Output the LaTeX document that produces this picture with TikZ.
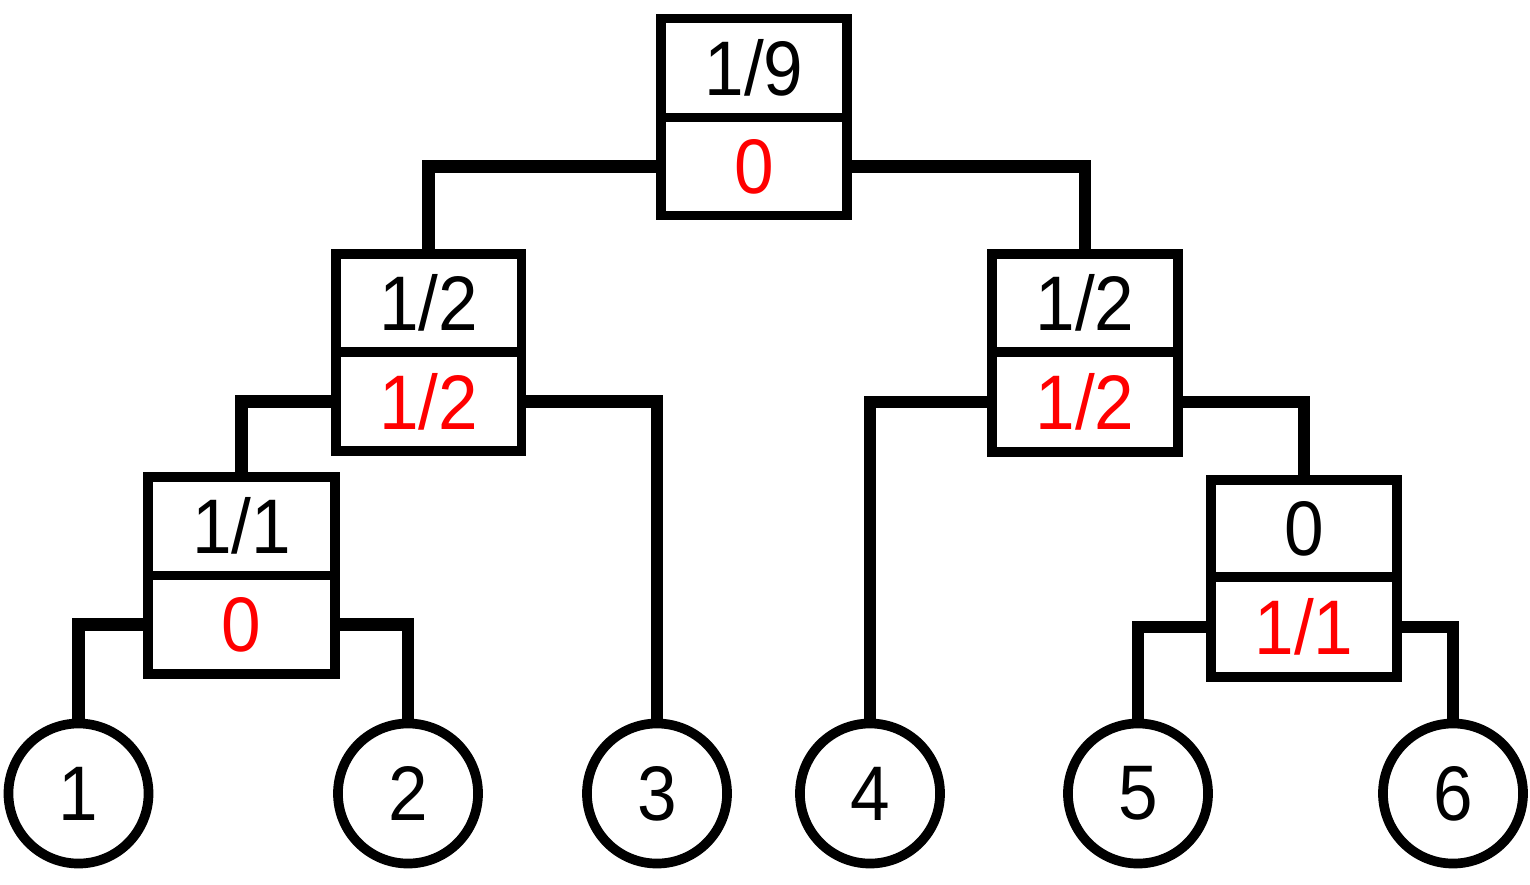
\documentclass[tikz,border=0pt]{standalone}
\usepackage{fontspec}
\setmainfont[FakeStretch=0.92]{Liberation Sans}
\definecolor{redtxt}{RGB}{255,0,0}
\begin{document}
\begin{tikzpicture}[x=0.01cm,y=-0.01cm,
  cell/.style={draw=black,line width=2.75pt,inner sep=0pt,font=\fontsize{22}{22}\selectfont},
  leaf/.style={draw=black,line width=2.75pt,circle,minimum size=1.40cm,inner sep=0pt,font=\fontsize{22}{22}\selectfont},
  conn/.style={line width=3.6pt,line join=miter}]
\useasboundingbox (0,0) rectangle (1530,884);
% root: x 661-847, y 18.5/117.5/215.5
\node[cell,minimum width=1.86cm,minimum height=0.99cm] (rt) at (754,68) {1/9};
\node[cell,minimum width=1.86cm,minimum height=0.98cm,text=redtxt] (rb) at (754,166.5) {0};
% left mid: x 336-521.5, y 254/352/451
\node[cell,minimum width=1.855cm,minimum height=0.98cm] (lmt) at (428.75,303) {1/2};
\node[cell,minimum width=1.855cm,minimum height=0.99cm,text=redtxt] (lmb) at (428.75,401.5) {1/2};
% right mid: x 992-1178, y 254/352/452
\node[cell,minimum width=1.86cm,minimum height=0.98cm] (rmt) at (1085,303) {1/2};
\node[cell,minimum width=1.86cm,minimum height=1.00cm,text=redtxt] (rmb) at (1085,402) {1/2};
% left low: x 148-335, y 477/575.5/674
\node[cell,minimum width=1.87cm,minimum height=0.985cm] (llt) at (241.5,526.25) {1/1};
\node[cell,minimum width=1.87cm,minimum height=0.985cm,text=redtxt] (llb) at (241.5,624.75) {0};
% right low: x 1211-1397, y 480/577/677
\node[cell,minimum width=1.86cm,minimum height=0.97cm] (rlt) at (1304,528.5) {0};
\node[cell,minimum width=1.86cm,minimum height=1.00cm,text=redtxt] (rlb) at (1304,627) {1/1};
% leaves
\node[leaf] (c1) at (78.5,793.5) {1};
\node[leaf] (c2) at (408,793.5) {2};
\node[leaf] (c3) at (657,793.5) {3};
\node[leaf] (c4) at (870,793.5) {4};
\node[leaf] (c5) at (1138,793.5) {5};
\node[leaf] (c6) at (1453,793.5) {6};
% connectors
\draw[conn] (rb.west) -| (lmt.north);
\draw[conn] (rb.east) -| (rmt.north);
\draw[conn] (lmb.west) -| (llt.north);
\draw[conn] (lmb.east) -| (c3.north);
\draw[conn] (rmb.west) -| (c4.north);
\draw[conn] (rmb.east) -| (rlt.north);
\draw[conn] (llb.west) -| (c1.north);
\draw[conn] (llb.east) -| (c2.north);
\draw[conn] (rlb.west) -| (c5.north);
\draw[conn] (rlb.east) -| (c6.north);
\end{tikzpicture}
\end{document}
